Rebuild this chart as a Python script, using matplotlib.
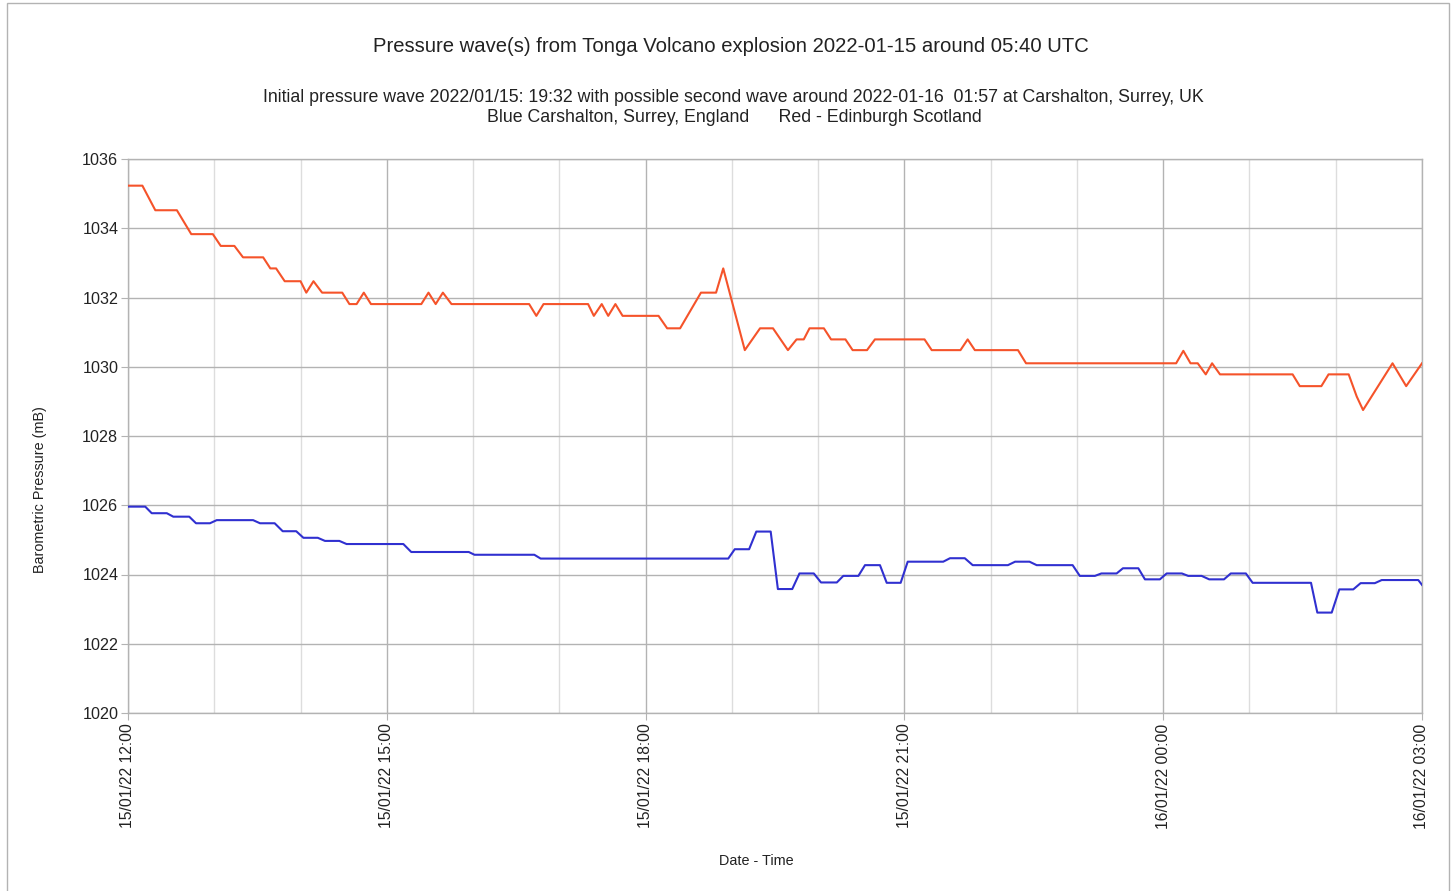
import matplotlib
matplotlib.use("Agg")
import matplotlib.pyplot as plt
import matplotlib.dates as mdates
import pandas as pd
from matplotlib.patches import Rectangle

plt.rcParams['font.family'] = ['Liberation Sans', 'DejaVu Sans']

# ---- data (minutes after 2022-01-15 12:00 UTC, pressure in mB) ----
start = pd.Timestamp("2022-01-15 12:00")

red_minutes = [0, 10, 19, 34, 44, 59, 64.5, 74, 80, 94, 99, 103, 109, 120, 124, 129, 135,
               149, 154, 159, 164, 169, 204, 209, 214, 219, 225, 279, 284, 289, 320, 324,
               329.5, 334, 339, 344, 369, 375, 384, 398.5, 409, 414, 429, 439.6, 448.6,
               459, 465, 470, 474, 484, 489, 499, 504, 514, 519.5, 554, 559, 579, 584, 589,
               619, 624.6, 729, 734, 739, 744, 749.6, 754, 759.5, 810, 815, 830, 835, 849,
               854.6, 859, 879.5, 889, 900]
red_values = [1035.23, 1035.23, 1034.52, 1034.52, 1033.83, 1033.83, 1033.49, 1033.49,
              1033.16, 1033.16, 1032.84, 1032.84, 1032.47, 1032.47, 1032.14, 1032.47,
              1032.14, 1032.14, 1031.81, 1031.81, 1032.14, 1031.81, 1031.81, 1032.14,
              1031.81, 1032.14, 1031.81, 1031.81, 1031.47, 1031.81, 1031.81, 1031.47,
              1031.81, 1031.47, 1031.81, 1031.47, 1031.47, 1031.11, 1031.11, 1032.14,
              1032.14, 1032.84, 1030.48, 1031.11, 1031.11, 1030.48, 1030.79, 1030.79,
              1031.11, 1031.11, 1030.79, 1030.79, 1030.48, 1030.48, 1030.79, 1030.79,
              1030.48, 1030.48, 1030.79, 1030.48, 1030.48, 1030.10, 1030.10, 1030.46,
              1030.10, 1030.10, 1029.78, 1030.10, 1029.78, 1029.78, 1029.44, 1029.44,
              1029.78, 1029.78, 1029.14, 1028.75, 1030.10, 1029.44, 1030.10]

blue_minutes = [0, 12, 16.5, 27, 31.5, 42.6, 47.3, 57, 61.7, 87, 91.8, 102, 107.6, 117,
                122, 132, 137, 147, 152, 191.5, 197, 237, 241, 282.6, 287, 417.5, 422,
                432, 437, 447, 452, 462, 467, 477, 482, 493, 497.5, 508, 512.6, 523,
                527.7, 537.4, 542.3, 567, 571.7, 582, 587.5, 612, 617, 627, 632, 657, 662,
                672.5, 677, 687.6, 692, 702.7, 707.3, 717.7, 722.4, 733, 737.4, 746.7,
                752, 762.3, 767, 777.5, 782.2, 822.8, 827.2, 837.2, 842.5, 852.2, 857.3,
                867.2, 872, 897.4, 900]
blue_values = [1025.96, 1025.96, 1025.77, 1025.77, 1025.67, 1025.67, 1025.48, 1025.48,
               1025.57, 1025.57, 1025.48, 1025.48, 1025.25, 1025.25, 1025.06, 1025.06,
               1024.97, 1024.97, 1024.88, 1024.88, 1024.65, 1024.65, 1024.57, 1024.57,
               1024.46, 1024.46, 1024.73, 1024.73, 1025.24, 1025.24, 1023.58, 1023.58,
               1024.03, 1024.03, 1023.77, 1023.77, 1023.96, 1023.96, 1024.27, 1024.27,
               1023.76, 1023.76, 1024.37, 1024.37, 1024.47, 1024.47, 1024.27, 1024.27,
               1024.37, 1024.37, 1024.27, 1024.27, 1023.96, 1023.96, 1024.03, 1024.03,
               1024.18, 1024.18, 1023.86, 1023.86, 1024.03, 1024.03, 1023.96, 1023.96,
               1023.86, 1023.86, 1024.03, 1024.03, 1023.76, 1023.76, 1022.90, 1022.90,
               1023.57, 1023.57, 1023.75, 1023.75, 1023.84, 1023.84, 1023.70]

y_ticks = [1020, 1022, 1024, 1026, 1028, 1030, 1032, 1034, 1036]

title = "Pressure wave(s) from Tonga Volcano explosion 2022-01-15 around 05:40 UTC"
subtitle1 = ("Initial pressure wave 2022/01/15: 19:32 with possible second wave around "
             "2022-01-16  01:57 at Carshalton, Surrey, UK")
subtitle2 = "Blue Carshalton, Surrey, England      Red - Edinburgh Scotland"

red_t = [start + pd.Timedelta(minutes=m) for m in red_minutes]
blue_t = [start + pd.Timedelta(minutes=m) for m in blue_minutes]

W, H = 1452, 891
fig = plt.figure(figsize=(W / 100, H / 100), dpi=100)
ax = fig.add_axes([128 / W, 1 - 713 / H, (1422 - 128) / W, (713 - 159) / H])

ax.plot(blue_t, blue_values, color='#3030d0', lw=1.5, zorder=3)
ax.plot(red_t, red_values, color='#f5532a', lw=1.5, zorder=3)

end = start + pd.Timedelta(hours=15)
ax.set_xlim(start, end)
ax.set_ylim(1020, 1036)
ax.set_yticks(y_ticks)
ax.set_yticklabels([str(v) for v in y_ticks], fontsize=11.6, color='#222222')

ax.xaxis.set_major_locator(mdates.HourLocator(byhour=[0, 3, 6, 9, 12, 15, 18, 21]))
ax.xaxis.set_minor_locator(mdates.HourLocator())
ax.xaxis.set_major_formatter(mdates.DateFormatter('%d/%m/%y %H:%M'))
plt.setp(ax.get_xticklabels(), rotation=90, fontsize=11.3, color='#222222')

ax.grid(which='major', axis='both', color='#b3b3b3', lw=1.0)
ax.grid(which='minor', axis='x', color='#dddddd', lw=1.0)
ax.set_axisbelow(True)
ax.tick_params(axis='y', which='major', length=5, color='#b3b3b3', pad=2)
ax.tick_params(axis='x', which='major', length=5, color='#b3b3b3', pad=2.5)
ax.tick_params(axis='x', which='minor', length=0)
for s in ax.spines.values():
    s.set_color('#b3b3b3')
    s.set_linewidth(1.0)

fig.text(731 / W, 1 - 46 / H, title, ha='center', va='center', fontsize=14.6, color='#222222')
fig.text(733 / W, 1 - 97 / H, subtitle1, ha='center', va='center', fontsize=12.8, color='#222222')
fig.text(734 / W, 1 - 118 / H, subtitle2, ha='center', va='center', fontsize=12.8, color='#222222')

fig.text(756 / W, 1 - 861 / H, "Date - Time", ha='center', va='center', fontsize=10.4, color='#222222')
fig.text(40 / W, 1 - 490 / H, "Barometric Pressure (mB)", ha='center', va='center',
         rotation=90, fontsize=10.4, color='#222222')

fig.patches.append(Rectangle((7 / W, -0.01), (1449 - 7) / W, 1 - 3 / H + 0.01,
                             transform=fig.transFigure, fill=False,
                             edgecolor='#b3b3b3', lw=1.0))

fig.savefig("out.png", dpi=100)
